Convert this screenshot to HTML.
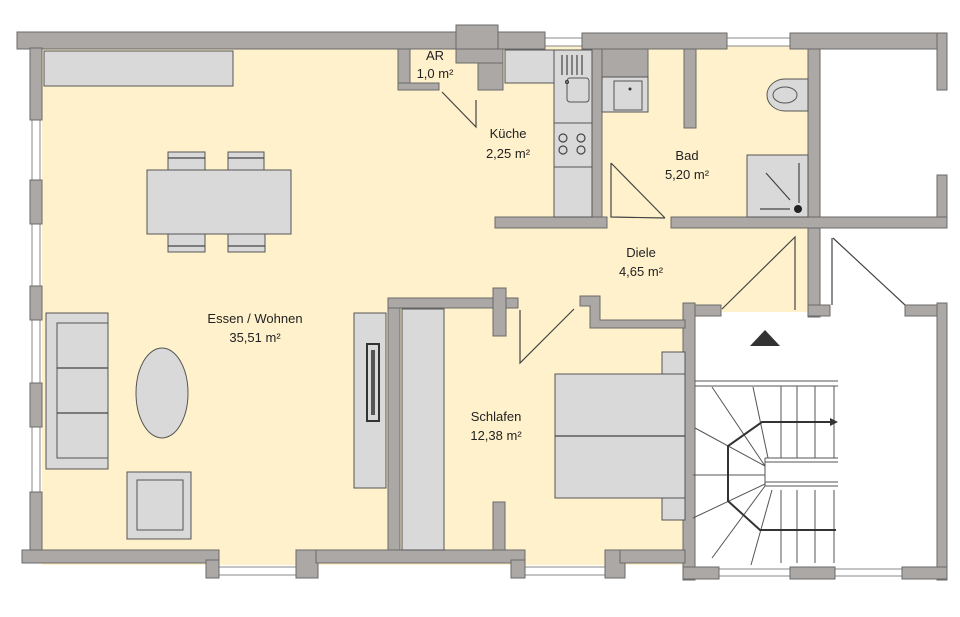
<!DOCTYPE html>
<html><head><meta charset="utf-8"><style>
html,body{margin:0;padding:0;background:#fff;width:960px;height:617px;overflow:hidden}
svg{display:block}
text{font-family:"Liberation Sans",sans-serif;font-size:13px;fill:#222;text-anchor:middle}
.w{fill:#aca8a6;stroke:#6a6a6a;stroke-width:1}
.f{fill:#d9d9d9;stroke:#555;stroke-width:1}
.l{stroke:#444;stroke-width:1.2;fill:none}
.s{stroke:#555;stroke-width:1;fill:none}
.win{fill:#fff;stroke:#888;stroke-width:1}
</style></head><body>
<svg width="960" height="617" viewBox="0 0 960 617" xmlns="http://www.w3.org/2000/svg">
<polygon points="42,49 808,49 808,312 685,312 685,565 42,565" fill="#fff1cc"/>
<rect x="545" y="40" width="37" height="9" fill="#fff1cc"/>
<rect x="727" y="40" width="63" height="9" fill="#fff1cc"/>
<rect class="win" x="545" y="38" width="37" height="8"/>
<rect class="win" x="727" y="38" width="63" height="8"/>
<rect class="win" x="32" y="120" width="8" height="60"/>
<rect class="win" x="32" y="224" width="8" height="62"/>
<rect class="win" x="32" y="320" width="8" height="63"/>
<rect class="win" x="32" y="427" width="8" height="65"/>
<rect class="win" x="219" y="567" width="77" height="8"/>
<rect class="win" x="525" y="567" width="80" height="8"/>
<rect class="win" x="719" y="569" width="71" height="7"/>
<rect class="win" x="835" y="569" width="67" height="7"/>
<g class="w">
<rect x="17" y="32" width="528" height="17"/>
<rect x="456" y="25" width="42" height="24"/>
<rect x="30" y="48" width="12" height="72"/>
<rect x="30" y="180" width="12" height="44"/>
<rect x="30" y="286" width="12" height="34"/>
<rect x="30" y="383" width="12" height="44"/>
<rect x="30" y="492" width="12" height="60"/>
<rect x="398" y="49" width="12" height="41"/>
<rect x="398" y="83" width="41" height="7"/>
<rect x="456" y="49" width="47" height="14"/>
<rect x="478" y="63" width="25" height="27"/>
<rect x="582" y="33" width="145" height="16"/>
<rect x="582" y="49" width="66" height="28"/>
<rect x="592" y="49" width="10" height="179"/>
<rect x="684" y="49" width="12" height="79"/>
<rect x="790" y="33" width="157" height="16"/>
<rect x="937" y="33" width="10" height="57"/>
<rect x="937" y="175" width="10" height="53"/>
<rect x="808" y="49" width="12" height="268"/>
<rect x="495" y="217" width="112" height="11"/>
<rect x="671" y="217" width="276" height="11"/>
<rect x="686" y="305" width="35" height="11"/>
<rect x="808" y="305" width="22" height="11"/>
<rect x="905" y="305" width="42" height="11"/>
<rect x="683" y="303" width="12" height="277"/>
<rect x="937" y="303" width="10" height="277"/>
<rect x="683" y="567" width="36" height="12"/>
<rect x="790" y="567" width="45" height="12"/>
<rect x="902" y="567" width="45" height="12"/>
<rect x="22" y="550" width="197" height="13"/>
<rect x="206" y="560" width="13" height="18"/>
<rect x="296" y="550" width="22" height="28"/>
<rect x="316" y="550" width="209" height="13"/>
<rect x="511" y="560" width="14" height="18"/>
<rect x="605" y="550" width="20" height="28"/>
<rect x="620" y="550" width="65" height="13"/>
<rect x="388" y="298" width="12" height="252"/>
<rect x="388" y="298" width="130" height="10"/>
<rect x="493" y="288" width="13" height="48"/>
<rect x="493" y="502" width="12" height="48"/>
<polygon points="580,296 600,296 600,320 685,320 685,328 590,328 590,306 580,306"/>
</g>
<g class="f">
<rect x="44" y="51" width="189" height="35"/>
<rect x="147" y="170" width="144" height="64"/>
<rect x="168" y="152" width="37" height="18"/><rect x="228" y="152" width="36" height="18"/>
<rect x="168" y="234" width="37" height="18"/><rect x="228" y="234" width="37" height="18"/>
<rect x="46" y="313" width="62" height="156"/>
<rect x="57" y="323" width="51" height="135"/>
<ellipse cx="162" cy="393" rx="26" ry="45"/>
<rect x="127" y="472" width="64" height="67"/>
<rect x="137" y="480" width="46" height="50"/>
<rect x="354" y="313" width="32" height="175"/>
<rect x="402" y="309" width="42" height="241"/>
<rect x="555" y="374" width="130" height="124"/>
<rect x="662" y="352" width="23" height="22"/><rect x="662" y="498" width="23" height="22"/>
<rect x="505" y="50" width="49" height="33"/>
<rect x="554" y="50" width="38" height="167"/>
<rect x="567" y="78" width="22" height="24" rx="3"/>
<rect x="554" y="123" width="38" height="44"/>
<rect x="602" y="77" width="46" height="35"/>
<rect x="614" y="81" width="28" height="29"/>
<rect x="747" y="155" width="61" height="62"/>
<path d="M808,79 H785 A18,16 0 0 0 785,111 H808 Z"/>
</g>
<ellipse cx="785" cy="95" rx="12" ry="8" fill="none" stroke="#555"/>
<circle cx="798" cy="209" r="4" fill="#222"/>
<line class="l" x1="760" y1="209" x2="790" y2="209"/>
<line class="l" x1="766" y1="173" x2="790" y2="200"/>
<line class="l" x1="799" y1="163" x2="799" y2="203"/>
<circle cx="630" cy="89" r="1.5" fill="#333"/>
<circle cx="567" cy="82" r="1.5" fill="none" stroke="#333"/>
<g class="l" stroke-width="1">
<line x1="562" y1="55" x2="562" y2="75"/><line x1="567" y1="55" x2="567" y2="75"/><line x1="572" y1="55" x2="572" y2="75"/><line x1="577" y1="55" x2="577" y2="75"/><line x1="582" y1="55" x2="582" y2="75"/>
<circle cx="563" cy="138" r="4"/><circle cx="581" cy="138" r="4"/><circle cx="563" cy="150" r="4"/><circle cx="581" cy="150" r="4"/>
<line x1="57" y1="368" x2="108" y2="368"/><line x1="57" y1="413" x2="108" y2="413"/>
<line x1="168" y1="158" x2="205" y2="158"/><line x1="228" y1="158" x2="264" y2="158"/>
<line x1="168" y1="246" x2="205" y2="246"/><line x1="228" y1="246" x2="265" y2="246"/>
<line x1="555" y1="436" x2="685" y2="436"/>
</g>
<rect x="367" y="344" width="12" height="77" fill="none" stroke="#333" stroke-width="2"/>
<rect x="371" y="350" width="4" height="65" fill="#555"/>
<g class="l">
<polyline points="442,92 476,127 476,100"/>
<polyline points="611,163 611,217 665,218"/>
<line x1="611" y1="163" x2="665" y2="218"/>
<polyline points="722,309 795,237 795,310"/>
<line x1="833" y1="238" x2="905" y2="305"/>
<line x1="832" y1="238" x2="832" y2="305"/>
<polyline points="520,310 520,363 574,309"/>
</g>
<polygon points="750,346 780,346 765,330" fill="#333"/>
<g class="s">
<line x1="695" y1="381" x2="838" y2="381"/><line x1="695" y1="386" x2="838" y2="386"/>
<line x1="765" y1="458" x2="838" y2="458"/><line x1="765" y1="462" x2="838" y2="462"/>
<line x1="765" y1="482" x2="838" y2="482"/><line x1="765" y1="486" x2="838" y2="486"/>
<line x1="765" y1="458" x2="765" y2="486"/>
<line x1="781" y1="386" x2="781" y2="458"/><line x1="797" y1="386" x2="797" y2="458"/><line x1="815" y1="386" x2="815" y2="458"/><line x1="834" y1="386" x2="834" y2="458"/>
<line x1="781" y1="490" x2="781" y2="563"/><line x1="797" y1="490" x2="797" y2="563"/><line x1="815" y1="490" x2="815" y2="563"/><line x1="834" y1="490" x2="834" y2="563"/>
<line x1="712" y1="387" x2="765" y2="466"/><line x1="753" y1="387" x2="768" y2="458"/>
<line x1="695" y1="428" x2="765" y2="466"/><line x1="693" y1="475" x2="765" y2="475"/>
<line x1="693" y1="518" x2="765" y2="484"/><line x1="712" y1="558" x2="765" y2="486"/>
<line x1="751" y1="565" x2="772" y2="490"/>
</g>
<polyline points="832,422 762,422 728,446 728,501 760,530 836,530" fill="none" stroke="#333" stroke-width="2"/>
<polygon points="838,422 830,418 830,426" fill="#333"/>
<text x="435" y="60">AR</text><text x="435" y="78">1,0 m²</text>
<text x="508" y="138">Küche</text><text x="508" y="158">2,25 m²</text>
<text x="687" y="160">Bad</text><text x="687" y="179">5,20 m²</text>
<text x="641" y="257">Diele</text><text x="641" y="276">4,65 m²</text>
<text x="255" y="323">Essen / Wohnen</text><text x="255" y="342">35,51 m²</text>
<text x="496" y="421">Schlafen</text><text x="496" y="440">12,38 m²</text>
</svg>
</body></html>
